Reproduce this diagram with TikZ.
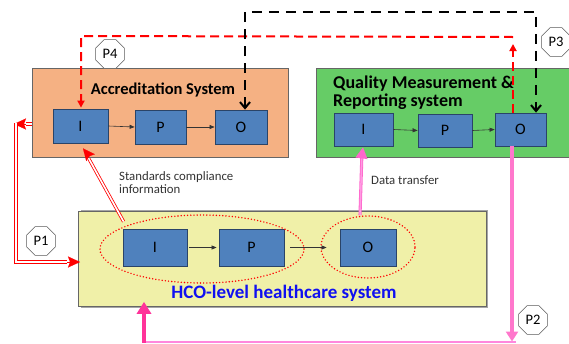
\documentclass[tikz,border=0pt]{standalone}
\usepackage{fontspec}
\setmainfont{Carlito}
\usetikzlibrary{arrows.meta,shapes.geometric}
\definecolor{accfill}{HTML}{F5B183}
\definecolor{qmfill}{HTML}{66CC66}
\definecolor{hcofill}{HTML}{F0F0A8}
\definecolor{ifill}{HTML}{4F81BD}
\definecolor{idraw}{HTML}{2A4468}
\definecolor{pinkA}{HTML}{FF66CC}
\definecolor{pinkB}{HTML}{FF77CC}
\definecolor{pinkC}{HTML}{FF88DD}
\definecolor{pinkD}{HTML}{FF3399}
\definecolor{txtgray}{HTML}{333333}
\definecolor{hblue}{HTML}{1010F0}
\tikzset{
  outerbox/.style={draw=gray!80!black, line width=0.8pt, anchor=north west, inner sep=0pt},
  ibox/.style={draw=idraw, fill=ifill, line width=0.8pt, inner sep=0pt, font=\fontsize{16}{18}\selectfont},
  octa/.style={regular polygon, regular polygon sides=8, minimum size=31pt, draw=gray!70!black, fill=white, inner sep=0pt, line width=0.6pt, font=\fontsize{14.5}{16}\selectfont},
  thinarrow/.style={draw=black!80, line width=0.6pt, -{Triangle[length=5pt,width=4pt]}},
  reddash/.style={draw=red, line width=2pt, dash pattern=on 9pt off 5pt},
  blackdash/.style={draw=black, line width=2pt, dash pattern=on 10pt off 7pt},
  reddouble/.style={draw=red, line width=0.8pt, double=white, double distance=1.6pt},
  redtip/.style={draw=red, line width=0.1pt, -{Stealth[length=12pt,width=11pt,inset=2pt]}},
  pinkdouble/.style={draw=pinkA, line width=0.8pt, double=pinkC!85!white, double distance=1.5pt},
  reddots/.style={draw=red, line width=1.6pt, dash pattern=on 0pt off 3.2pt, line cap=round, ellipse, inner sep=0pt},
  lbl/.style={font=\fontsize{12.8}{12.5}\selectfont, text=txtgray, align=left, anchor=north west, inner sep=0pt}
}
\begin{document}
\begin{tikzpicture}[x=1pt,y=-1pt]
\useasboundingbox (0,0) rectangle (569,343);

% outer boxes
\node[outerbox, fill=accfill, minimum width=256pt, minimum height=89pt] (acc) at (32,68) {};
\node[outerbox, fill=qmfill, minimum width=255pt, minimum height=89pt] (qm) at (316,68) {};
\fill[gray!70] (81,210) rectangle (488,308);
\node[outerbox, fill=hcofill, minimum width=408pt, minimum height=95pt] (hco) at (78,211) {};

% titles
\node[font=\fontsize{16.5}{18}\selectfont\bfseries] (acct) at (163,90) {Accreditation System};
\node[font=\fontsize{18}{18}\selectfont\bfseries, align=left, anchor=north west, inner sep=0pt] (qmt) at (333,76) {Quality Measurement \&\\Reporting system};
\node[font=\fontsize{19}{20}\selectfont\bfseries, text=hblue] (hcot) at (284,293) {HCO-level healthcare system};

% inner boxes
\node[ibox, minimum width=55pt, minimum height=34pt] (aI) at (80.5,126) {I};
\node[ibox, minimum width=51pt, minimum height=34pt] (aP) at (160.5,127) {P};
\node[ibox, minimum width=52pt, minimum height=34pt] (aO) at (241,127) {O};
\node[ibox, minimum width=59pt, minimum height=33pt] (qI) at (363.5,129.5) {I};
\node[ibox, minimum width=54pt, minimum height=33pt] (qP) at (445,130.5) {P};
\node[ibox, minimum width=51pt, minimum height=33pt] (qO) at (520.5,129.5) {O};
\node[ibox, minimum width=64pt, minimum height=37pt] (hI) at (155,247.5) {I};
\node[ibox, minimum width=65pt, minimum height=37pt] (hP) at (251.5,247.5) {P};
\node[ibox, minimum width=56pt, minimum height=37pt] (hO) at (368,247.5) {O};

% dotted ellipses
\node[reddots, minimum width=204pt, minimum height=68pt] (e1) at (202,249) {};
\node[reddots, minimum width=94pt, minimum height=62pt] (e2) at (368,247) {};

% inner arrows
\draw[thinarrow] (aI.east) -- (aP.west);
\draw[thinarrow] (aP.east) -- (aO.west);
\draw[thinarrow] (qI.east) -- (qP.west);
\draw[thinarrow] (qP.east) -- (qO.west);
\draw[thinarrow] ([xshift=2pt]hI.east) -- ([xshift=-2pt]hP.west);
\draw[thinarrow] ([xshift=6pt]hP.east) -- ([xshift=-13pt]hO.west);

% octagons
\node[octa] (p4) at (110,54) {P4};
\node[octa] (p3) at (556,42) {P3};
\node[octa] (p1) at (41,241) {P1};
\node[octa] (p2) at (533,320) {P2};

% red dashed P4 path
\coordinate (r0) at (513,44);
\coordinate (r1) at (513,36);
\coordinate (r2) at (81,36);
\draw[reddash, -{Triangle[length=7pt,width=7pt]}] (qO.north -| r0) -- (r0);
\draw[reddash, -{Triangle[length=7pt,width=7pt]}] ([yshift=-1pt]r1) -- (r2) -- ([yshift=1pt]aI.north -| r2);

% black dashed P3 path
\coordinate (b1) at (245,12);
\coordinate (b2) at (536,12);
\draw[blackdash, {Straight Barb[length=6pt,width=10pt,line width=2pt]}-{Straight Barb[length=6pt,width=10pt,line width=2pt]}] (aO.north -| b1) -- (b1) -- (b2) -- (qO.north -| b2);

% red double P1 path
\coordinate (d1) at (16,124);
\coordinate (d2) at (16,262);
\coordinate (d0) at (26,124);
\coordinate (d3) at (67,262);
\draw[reddouble] (acc.west |- d1) -- (d0);
\draw[redtip] (d0) -- (14,124);
\draw[reddouble] ([yshift=1.2pt]d1) -- (d2) -- (d3);
\draw[redtip] (d3) -- ([xshift=2pt]hco.west |- d2);

% red double standards compliance
\coordinate (s1) at (89,159);
\draw[reddouble] ([xshift=1pt,yshift=7pt]hI.north west) -- (s1);
\draw[redtip] ([xshift=1pt,yshift=2pt]s1) -- ([xshift=2.5pt,yshift=-5pt]aI.south);
\node[lbl] (stxt) at (119,171.5) {Standards compliance\\information};

% pink data transfer
\coordinate (t1) at (361.8,157);
\draw[pinkdouble] ([xshift=-8pt]e2.north) -- (t1);
\draw[draw=pinkA, line width=0.1pt, -{Triangle[length=11pt,width=12pt]}, pinkA] ([yshift=1pt]t1) -- ([xshift=-0.5pt,yshift=-1pt]qI.south);
\node[lbl] (dtxt) at (371,176) {Data transfer};

% pink P2 path
\coordinate (q1) at (512,342);
\coordinate (q2) at (144,342);
\draw[line width=4pt, pinkB, -{Triangle[length=10pt,width=12pt]}] (qO.south -| q1) -- ([yshift=0.5pt]q1);
\draw[line width=1.5pt, pinkC] ([xshift=4pt]q1) -- (q2);
\draw[line width=4pt, pinkD, -{Triangle[length=12pt,width=14pt]}] ([yshift=-0.75pt]q2) -- ([yshift=5pt]hco.south -| q2);
\end{tikzpicture}
\end{document}
